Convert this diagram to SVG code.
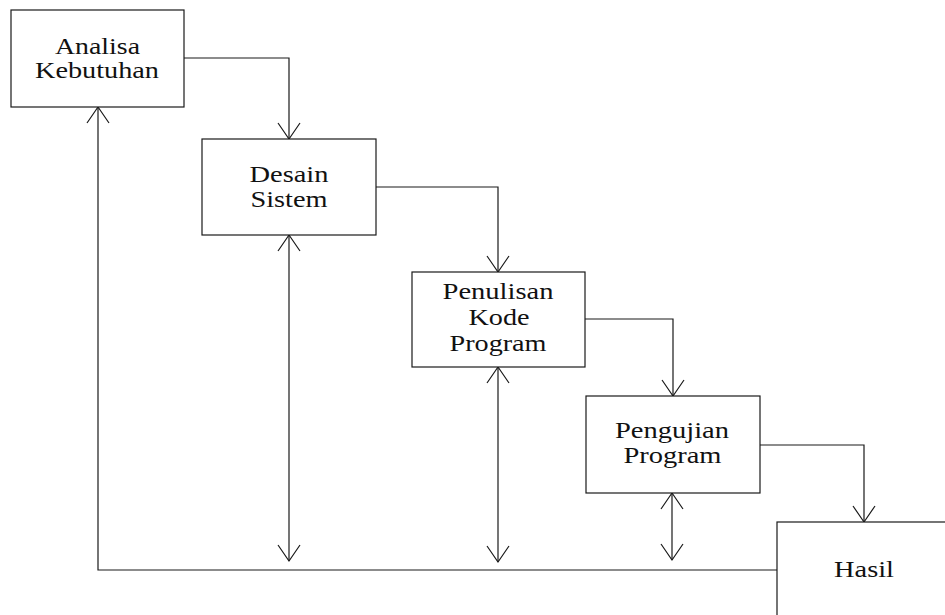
<svg xmlns="http://www.w3.org/2000/svg" width="945" height="615" viewBox="0 0 945 615">
  <style>
    .box { fill: #ffffff; stroke: #1a1a1a; stroke-width: 1.2; }
    .lbl { font-family: "Liberation Serif", "Times New Roman", serif; font-size: 24px; fill: #111111; text-anchor: middle; }
    .con { fill: none; stroke: #1a1a1a; stroke-width: 1.2; }
  </style>
  <defs>
    <marker id="arr" viewBox="-18 -13 20 26" refX="0" refY="0" markerWidth="20" markerHeight="26" markerUnits="userSpaceOnUse" orient="auto-start-reverse">
      <path d="M-16,-11 L0,0 L-16,11" fill="none" stroke="#1a1a1a" stroke-width="1.2"/>
    </marker>
  </defs>
  <rect width="945" height="615" fill="#ffffff"/>

  <g id="connectors">
    <polyline class="con" points="184,58 289,58 289,139" marker-end="url(#arr)"/>
    <polyline class="con" points="376,187 498,187 498,272" marker-end="url(#arr)"/>
    <polyline class="con" points="585,319 673,319 673,396" marker-end="url(#arr)"/>
    <polyline class="con" points="760,445 864,445 864,522" marker-end="url(#arr)"/>
    <line class="con" x1="289" y1="235" x2="289" y2="561" marker-start="url(#arr)" marker-end="url(#arr)"/>
    <line class="con" x1="498" y1="367" x2="498" y2="562" marker-start="url(#arr)" marker-end="url(#arr)"/>
    <line class="con" x1="672" y1="493" x2="672" y2="560" marker-start="url(#arr)" marker-end="url(#arr)"/>
    <polyline class="con" points="777,570 98,570 98,107" marker-end="url(#arr)"/>
  </g>

  <g id="analisa">
    <rect class="box" x="11" y="10" width="173" height="97"/>
    <text class="lbl" x="97.5" y="54" textLength="85" lengthAdjust="spacingAndGlyphs">Analisa</text>
    <text class="lbl" x="97" y="78" textLength="124" lengthAdjust="spacingAndGlyphs">Kebutuhan</text>
  </g>

  <g id="desain">
    <rect class="box" x="202" y="139" width="174" height="96"/>
    <text class="lbl" x="289" y="182" textLength="79" lengthAdjust="spacingAndGlyphs">Desain</text>
    <text class="lbl" x="289" y="207" textLength="77" lengthAdjust="spacingAndGlyphs">Sistem</text>
  </g>

  <g id="penulisan">
    <rect class="box" x="412" y="272" width="173" height="95"/>
    <text class="lbl" x="498" y="299" textLength="111" lengthAdjust="spacingAndGlyphs">Penulisan</text>
    <text class="lbl" x="499" y="325" textLength="61" lengthAdjust="spacingAndGlyphs">Kode</text>
    <text class="lbl" x="498" y="351" textLength="97" lengthAdjust="spacingAndGlyphs">Program</text>
  </g>

  <g id="pengujian">
    <rect class="box" x="586" y="396" width="174" height="97"/>
    <text class="lbl" x="672" y="438" textLength="114" lengthAdjust="spacingAndGlyphs">Pengujian</text>
    <text class="lbl" x="672.5" y="463" textLength="98" lengthAdjust="spacingAndGlyphs">Program</text>
  </g>

  <g id="hasil">
    <rect class="box" x="777" y="522" width="200" height="120"/>
    <text class="lbl" x="864" y="577" textLength="60" lengthAdjust="spacingAndGlyphs">Hasil</text>
  </g>
</svg>
